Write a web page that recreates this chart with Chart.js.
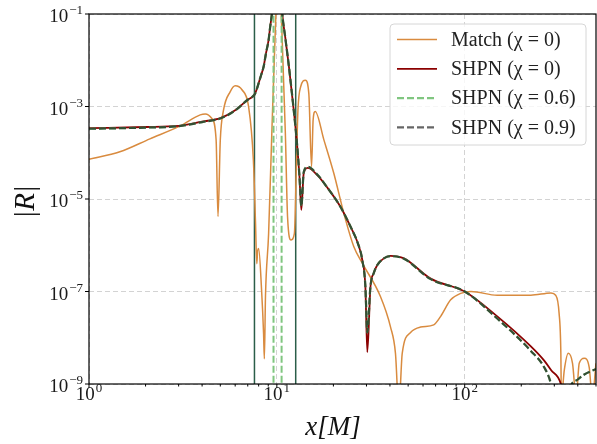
<!DOCTYPE html>
<html>
<head>
<meta charset="utf-8">
<script src="https://cdn.jsdelivr.net/npm/chart.js@4.4.1/dist/chart.umd.min.js"></script>
<style>
  html, body { margin: 0; padding: 0; background: #fff; }
  canvas { display: block; }
</style>
</head>
<body>
<canvas id="chart" width="597" height="444" style="width:597px;height:444px"></canvas>
<script>
// Match (chi = 0)
const matchX = [1, 1.46, 2.11, 3.06, 3.91, 4.16, 4.51, 4.75, 4.86, 5.0, 5.2, 5.65, 6.0, 6.52, 7.07, 7.5, 7.7, 7.82, 7.9, 8.0, 8.3, 8.5, 8.58, 8.7, 9.04, 9.4, 9.8, 10.2, 10.65, 11.1, 11.4, 11.9, 12.4, 12.7, 12.95, 13.4, 14.2, 14.8, 15.3, 15.6, 16.0, 17.8, 20.1, 22.7, 25.7, 28.5, 35.6, 40.3, 42.8, 44.6, 46.5, 51.5, 58.2, 68.4, 74.5, 84.2, 95.2, 108, 149, 225, 288, 305, 318, 325, 327, 339, 356, 375, 392, 407, 433, 460, 478, 500];
const matchY = [7.2e-5, 1.05e-4, 2.0e-4, 3.8e-4, 6.6e-4, 6.9e-4, 5.5e-4, 1.9e-4, 4.2e-6, 1.9e-4, 8.3e-4, 2.1e-3, 2.8e-3, 2.3e-3, 1e-3, 6.9e-5, 3e-6, 4e-7, 7.5e-7, 8.5e-7, 1e-7, 1.2e-8, 3.5e-9, 8e-8, 1.8e-6, 2.6e-4, 3.8e-2, 1, 3.8e-2, 2.6e-4, 4.2e-6, 1.3e-6, 1.8e-6, 5e-5, 8.3e-4, 2.7e-3, 3.7e-3, 1.9e-3, 5e-5, 5.1e-4, 7.8e-4, 1.9e-4, 3.6e-5, 5e-6, 9.3e-7, 4.1e-7, 7.8e-8, 1.7e-8, 4.6e-9, 3e-10, 4.6e-9, 1.3e-8, 1.7e-8, 1.9e-8, 2.9e-8, 6.6e-8, 9.1e-8, 1e-7, 8.3e-8, 8.3e-8, 9.3e-8, 8.3e-8, 3.4e-8, 4.6e-9, 5e-10, 2e-9, 4.6e-9, 2.8e-9, 5e-10, 2.8e-9, 3.6e-9, 2.3e-9, 5e-10, 2.8e-9];

// SHPN (chi = 0)
const shpn0X = [1, 2, 3, 4, 5, 6, 7, 7.3, 7.6, 7.8, 8, 8.25, 8.5, 8.75, 9.04, 9.2, 9.45, 10.1, 10.65, 11.1, 11.6, 12.3, 12.8, 13.2, 13.5, 13.9, 14.6, 16.5, 18.5, 21.8, 24.7, 27, 28.5, 29.6, 30.3, 31.5, 32.8, 34.2, 37.1, 40.3, 47.5, 65.9, 100, 149, 225, 265, 288, 325, 335];
const shpn0Y = [3.4e-4, 3.6e-4, 3.8e-4, 4.7e-4, 5.6e-4, 8.3e-4, 1.4e-3, 1.55e-3, 1.8e-3, 2.3e-3, 3.2e-3, 4.8e-3, 7.2e-3, 1.4e-2, 2.75e-2, 5e-2, 0.12, 5, 0.12, 0.03, 7.2e-3, 8.3e-4, 1.6e-4, 3e-5, 5.8e-6, 3.6e-5, 4.7e-5, 3.2e-5, 1.8e-5, 6.8e-6, 2.5e-6, 1.1e-6, 4.8e-7, 1.25e-7, 4.9e-9, 1.25e-7, 2.5e-7, 3.7e-7, 5.2e-7, 5.9e-7, 5.2e-7, 1.9e-7, 1e-7, 2.9e-8, 6.5e-9, 3.2e-9, 2e-9, 1e-9, 5e-10];

// SHPN (chi = 0.6) and (chi = 0.9) lie on top of each other in the plot
const spinX = [1, 2, 3, 4, 5, 6, 7, 7.3, 7.6, 7.8, 8, 8.25, 8.5, 8.75, 9.04, 9.2, 9.45, 10.1, 10.65, 11.1, 11.6, 12.3, 12.8, 13.2, 13.5, 13.9, 14.6, 16.5, 18.5, 21.8, 24.7, 27, 28.5, 29.6, 30.3, 31.5, 32.8, 34.2, 37.1, 40.3, 47.5, 65.9, 100, 149, 225, 265, 288, 320, 367, 400, 433, 500];
const spin06Y = [3.3e-4, 3.5e-4, 3.75e-4, 4.6e-4, 5.5e-4, 8.2e-4, 1.4e-3, 1.55e-3, 1.8e-3, 2.3e-3, 3.2e-3, 4.8e-3, 7.2e-3, 1.4e-2, 2.75e-2, 5e-2, 0.12, 5, 0.12, 0.03, 7.2e-3, 8.3e-4, 1.6e-4, 3e-5, 7e-6, 3.8e-5, 5e-5, 3.3e-5, 1.8e-5, 6.8e-6, 2.5e-6, 1.1e-6, 4.8e-7, 1.3e-7, 1.3e-8, 1.3e-7, 2.5e-7, 3.7e-7, 5.2e-7, 5.8e-7, 5.1e-7, 1.85e-7, 1e-7, 2.6e-8, 5.2e-9, 2.3e-9, 1e-9, 1e-10, 9e-10, 1.25e-9, 1.6e-9, 2.1e-9];
const spin09Y = spin06Y.slice();

// vertical markers
const boundaryX = [7.6, 12.6];
const chi06PoleX = [9.6, 10.6];

// tick labels (powers of ten)
const xTickExps = [0, 1, 2];
const yTickExps = [-1, -3, -5, -7, -9];

const SERIF = "'Liberation Serif', 'DejaVu Serif', serif";
const zip = (xs, ys) => xs.map((x, i) => ({ x, y: ys[i] }));
const vline = (x) => [{ x, y: 1e-12 }, { x, y: 10 }];

// higher order = drawn underneath
const datasets = [
  { label: 'Match (χ = 0)', data: zip(matchX, matchY), borderColor: '#d98b3f', borderWidth: 1.5, order: 4 },
  { label: 'SHPN (χ = 0)', data: zip(shpn0X, shpn0Y), borderColor: '#8b0000', borderWidth: 1.8, order: 3 },
  { label: 'SHPN (χ = 0.6)', data: zip(spinX, spin06Y), borderColor: '#80c680', borderWidth: 2.2, borderDash: [7, 3], order: 2 },
  { label: 'SHPN (χ = 0.9)', data: zip(spinX, spin09Y), borderColor: 'rgba(0,0,0,0.6)', borderWidth: 2.2, borderDash: [7, 3], order: 1 }
];
boundaryX.forEach(x => datasets.push({ data: vline(x), borderColor: '#2b5e49', borderWidth: 1.5, cubicInterpolationMode: 'default', tension: 0, order: 5 }));
chi06PoleX.forEach(x => datasets.push({ data: vline(x), borderColor: '#80c680', borderWidth: 2, borderDash: [7, 3], cubicInterpolationMode: 'default', tension: 0, order: 2 }));

function drawPow(ctx, exp, x, baseY, align) {
  const base = '10', sup = exp < 0 ? '\u2212' + Math.abs(exp) : String(exp);
  ctx.font = `19px ${SERIF}`;
  const wb = ctx.measureText(base).width;
  ctx.font = `13px ${SERIF}`;
  const ws = ctx.measureText(sup).width;
  const total = wb + ws + 1;
  let left = align === 'right' ? x - total : x - total / 2;
  ctx.textAlign = 'left';
  ctx.textBaseline = 'alphabetic';
  ctx.font = `19px ${SERIF}`;
  ctx.fillText(base, left, baseY);
  ctx.font = `13px ${SERIF}`;
  ctx.fillText(sup, left + wb + 1, baseY - 8);
}

const decorations = {
  id: 'decorations',
  afterDraw(chart) {
    const { ctx, chartArea: a, scales: { x, y } } = chart;
    ctx.save();
    // frame
    ctx.strokeStyle = '#000';
    ctx.lineWidth = 1.2;
    ctx.strokeRect(a.left, a.top, a.right - a.left, a.bottom - a.top);

    // ticks (outward)
    ctx.lineWidth = 1;
    ctx.beginPath();
    for (let k = 0; k <= 2; k++) {
      for (let d = 1; d <= 9; d++) {
        const v = d * Math.pow(10, k);
        if (v > 500) break;
        const px = x.getPixelForValue(v);
        ctx.moveTo(px, a.bottom);
        ctx.lineTo(px, a.bottom + (d === 1 ? 4 : 2.5));
      }
    }
    yTickExps.forEach(e => {
      const py = y.getPixelForValue(Math.pow(10, e));
      ctx.moveTo(a.left, py);
      ctx.lineTo(a.left - 4, py);
    });
    ctx.stroke();

    // tick labels
    ctx.fillStyle = '#1a1a1a';
    xTickExps.forEach(e => drawPow(ctx, e, x.getPixelForValue(Math.pow(10, e)), a.bottom + 16, 'center'));
    yTickExps.forEach(e => drawPow(ctx, e, a.left - 6, y.getPixelForValue(Math.pow(10, e)) + 8, 'right'));

    // axis titles
    ctx.fillStyle = '#111';
    ctx.textAlign = 'center';
    ctx.textBaseline = 'alphabetic';
    ctx.font = `italic 27px ${SERIF}`;
    ctx.fillText('x[M]', 333, 435);
    ctx.save();
    ctx.translate(34, 202);
    ctx.rotate(-Math.PI / 2);
    ctx.font = `italic 29px ${SERIF}`;
    ctx.fillText('|R|', 0, 0);
    ctx.restore();

    // legend
    const items = chart.data.datasets.filter(d => d.label);
    const bx = 390, by = 24, bw = 196, bh = 121;
    ctx.beginPath();
    ctx.roundRect(bx, by, bw, bh, 4);
    ctx.fillStyle = 'rgba(255,255,255,0.8)';
    ctx.fill();
    ctx.strokeStyle = '#d6d6d6';
    ctx.lineWidth = 1;
    ctx.stroke();
    items.forEach((d, i) => {
      const cy = by + 15.5 + i * 29.3;
      ctx.beginPath();
      ctx.setLineDash(d.borderDash || []);
      ctx.strokeStyle = d.borderColor;
      ctx.lineWidth = d.borderWidth;
      ctx.moveTo(397, cy);
      ctx.lineTo(437, cy);
      ctx.stroke();
      ctx.setLineDash([]);
      ctx.fillStyle = '#222';
      ctx.font = `20px ${SERIF}`;
      ctx.textAlign = 'left';
      ctx.textBaseline = 'middle';
      ctx.fillText(d.label, 451, cy + 1);
    });
    ctx.restore();
  }
};

new Chart(document.getElementById('chart'), {
  type: 'line',
  data: { datasets },
  options: {
    responsive: false,
    animation: false,
    devicePixelRatio: 1,
    layout: { padding: { top: 14, right: 1, left: 0, bottom: 0 } },
    elements: {
      point: { radius: 0 },
      line: { cubicInterpolationMode: 'monotone', fill: false }
    },
    plugins: { legend: { display: false }, tooltip: { enabled: false } },
    scales: {
      x: {
        type: 'logarithmic', min: 1, max: 500,
        afterBuildTicks: s => { s.ticks = xTickExps.map(e => ({ value: Math.pow(10, e) })); },
        afterFit: s => { s.height = 60; },
        ticks: { display: false },
        grid: { color: '#d3d3d3', lineWidth: 1, drawTicks: false },
        border: { display: false, dash: [5, 3] }
      },
      y: {
        type: 'logarithmic', min: 1e-9, max: 1e-1,
        afterBuildTicks: s => { s.ticks = yTickExps.map(e => ({ value: Math.pow(10, e) })); },
        afterFit: s => { s.width = 89; },
        ticks: { display: false },
        grid: { color: '#d3d3d3', lineWidth: 1, drawTicks: false },
        border: { display: false, dash: [5, 3] }
      }
    }
  },
  plugins: [decorations]
});
</script>
</body>
</html>
